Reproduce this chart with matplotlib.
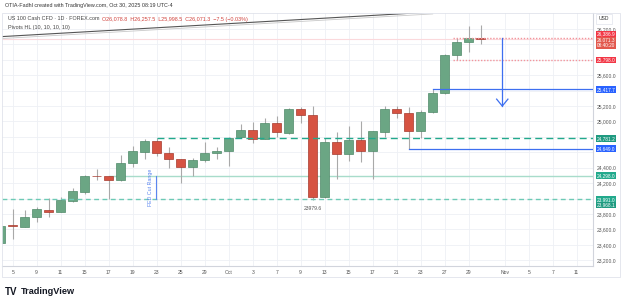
import matplotlib
matplotlib.use('Agg')
import matplotlib.pyplot as plt
import matplotlib.transforms as mtransforms
import numpy as np
import pandas as pd
from matplotlib.patches import Rectangle

plt.rcParams['font.family'] = ['Liberation Sans', 'DejaVu Sans']

# ---------------- data ----------------
calendar = pd.bdate_range('2025-09-04', '2025-11-14')   # trading-day axis
candle_dates = list(calendar[:41])
opens = [23420, 23660, 23636, 23758, 23852, 23830, 23973, 24086, 24296, 24290,
         24241, 24458, 24608, 24751, 24588, 24510, 24406, 24501, 24588, 24617,
         24795, 24890, 24777, 24977, 24855, 25158, 25084, 24017, 24730, 24579,
         24760, 24617, 24868, 25158, 25106, 24877, 25127, 25366, 25863, 26027,
         26078.8]
highs = [23680, 23861, 23852, 23887, 24004, 24021, 24138, 24306, 24384, 24298,
         24566, 24682, 24776, 24781.2, 24665, 24515, 24527, 24738, 24673, 24803,
         24968, 24990, 25042, 25071, 25175, 25192, 25205, 24782, 24860, 24942,
         25007, 24880, 25201, 25201, 25184, 25149, 25417.7, 25870, 26079, 26239,
         26257.5]
lows = [23390, 23472, 23628, 23701, 23765, 23822, 23952, 24056, 24241, 23991,
        24230, 24414, 24510, 24553, 24393, 24199, 24297, 24479, 24510, 24423,
        24782, 24717, 24769, 24803, 24834, 24977, 23979.6, 24004, 24250, 24492,
        24479, 24250, 24803, 25042, 24649, 24782, 25114, 25360, 25798, 25905,
        25998.5]
closes = [23645, 23640, 23758, 23861, 23826, 23978, 24095, 24293, 24290, 24240,
          24458, 24617, 24751, 24595, 24510, 24406, 24501, 24588, 24617, 24790,
          24890, 24777, 24977, 24860, 25158, 25084, 24017, 24730, 24579, 24760,
          24617, 24873, 25158, 25106, 24877, 25127, 25366, 25863, 26027, 26079,
          26071.3]

xtick_dates = ['2025-09-05', '2025-09-09', '2025-09-11', '2025-09-15', '2025-09-17',
               '2025-09-19', '2025-09-23', '2025-09-25', '2025-09-29', '2025-10-01',
               '2025-10-03', '2025-10-07', '2025-10-09', '2025-10-13', '2025-10-15',
               '2025-10-17', '2025-10-21', '2025-10-23', '2025-10-27', '2025-10-29',
               '2025-11-03', '2025-11-05', '2025-11-07', '2025-11-11']
xtick_labels = ['5', '9', '11', '15', '17', '19', '23', '25', '29', 'Oct', '3', '7', '9',
                '13', '15', '17', '21', '23', '27', '29', 'Nov', '5', '7', '11']
price_ticks = list(range(23200, 26201, 200))

# horizontal levels: (price, start date)
res_level = (24781.2, '2025-09-23')
fed_high = (24298.0, '2025-09-17')
fed_low = 23991.0
pivot_blue_low = (24649.0, '2025-10-22')
pivot_blue_high = (25417.7, '2025-10-24')
box_top, box_bottom, box_start = 26079.0, 25798.0, '2025-10-28'
last_close = 26071.3
arrow_date = '2025-11-03'
arrow_from, arrow_to = 26079.0, 25200.0
trend_dates = ['2025-09-04', '2025-10-24']
trend_prices = [26100, 26420]
low_label = 23979.6

# ---------------- helpers ----------------
pos = {d: i for i, d in enumerate(calendar)}
def xi(d):
    return pos[pd.Timestamp(d)]

fig = plt.figure(figsize=(6.25, 3.04), dpi=100)
fig.patch.set_facecolor('white')
W, H = 625, 304
ax = fig.add_axes([2 / W, (H - 266) / H, (593 - 2) / W, (266 - 13) / H])
ax.set_xlim(0.11, 49.36)
ax.set_ylim(23126, 26407)

for s in ['top', 'left']:
    ax.spines[s].set_visible(False)
for s in ['right', 'bottom']:
    ax.spines[s].set_color('#d1d4dc')
    ax.spines[s].set_linewidth(0.8)

# colored axis-label prices (tick labels hidden behind them)
label_prices = [last_close, box_bottom, pivot_blue_high[0], res_level[0],
                pivot_blue_low[0], fed_high[0], fed_low]

xt = [xi(d) for d in xtick_dates]
ax.set_xticks(xt)
ax.set_xticklabels(xtick_labels)
ax.set_yticks(price_ticks)
ax.yaxis.tick_right()
ylabels = []
for p in price_ticks:
    if min(abs(p - q) for q in label_prices) < 80:
        ylabels.append('')
    else:
        ylabels.append(f'{p:,.1f}')
ax.set_yticklabels(ylabels)
ax.tick_params(axis='both', length=0, labelsize=3.6, colors='#555555')
ax.tick_params(axis='x', pad=2.6)
ax.tick_params(axis='y', pad=2.8)
ax.grid(True, color='#eef0f5', lw=0.6)
ax.set_axisbelow(True)

# candles
GREEN, GREEN_E = '#6ba684', '#4f8a69'
RED, RED_E = '#d65342', '#a63a2e'
bw = 0.74
for d, o, h, l, c in zip(candle_dates, opens, highs, lows, closes):
    x = xi(d)
    up = c >= o
    ax.vlines(x, l, h, color='#a9a9a9', lw=0.8, zorder=2)
    lo, hi = min(o, c), max(o, c)
    hgt = max(hi - lo, 6)
    ax.add_patch(Rectangle((x - bw / 2, lo), bw, hgt,
                           facecolor=GREEN if up else RED,
                           edgecolor=GREEN_E if up else RED_E, lw=0.5, zorder=3))

xr = ax.get_xlim()[1]
# levels
ax.plot([xi(res_level[1]), xr], [res_level[0]] * 2, color='#22a98c', lw=1.0,
        ls=(0, (5, 3)), zorder=4)
ax.plot([xi(fed_high[1]), xr], [fed_high[0]] * 2, color='#a8dccb', lw=1.0, zorder=1.5)
ax.plot([ax.get_xlim()[0], xr], [fed_low] * 2, color='#6dcab5', lw=1.0,
        ls=(0, (3.5, 2.5)), zorder=4)
ax.plot([xi(pivot_blue_low[1]), xr], [pivot_blue_low[0]] * 2, color='#3d6ff0', lw=0.9, zorder=4)
ax.plot([xi(pivot_blue_high[1]), xr], [pivot_blue_high[0]] * 2, color='#3d6ff0', lw=0.9, zorder=4)
ax.plot([ax.get_xlim()[0], xr], [last_close] * 2, color='#fbd9dc', lw=0.8, zorder=1.5)
for p in (box_top, box_bottom):
    ax.plot([xi(box_start) - 0.3, xr], [p, p], color='#f3959c', lw=1.0,
            ls=(0, (1, 1.2)), zorder=4)

# arrow
ax_x = xi(arrow_date) - 0.2
ax.plot([ax_x, ax_x], [arrow_from, arrow_to], color='#3d6ff0', lw=0.9, zorder=5)
ax.plot([ax_x - 0.47, ax_x, ax_x + 0.47], [arrow_to + 90, arrow_to, arrow_to + 90],
        color='#3d6ff0', lw=0.9, zorder=5)

# FED cut range bracket
fx = xi(res_level[1]) - 0.05
ax.plot([fx, fx], [fed_low, fed_high[0]], color='#5b86f0', lw=0.8, zorder=5)
ax.text(fx - 0.45, (fed_low + fed_high[0]) / 2, 'FED Cut Range', rotation=90,
        ha='center', va='center', fontsize=3.8, color='#5b86f0', zorder=6)

# trend line
ax.plot([xi(d) for d in trend_dates], trend_prices, color='#555555', lw=0.8,
        zorder=5, clip_on=True)
ax.plot([xi(d) for d in trend_dates], [p - 25 for p in trend_prices], color='#c9c9c9',
        lw=0.6, zorder=4.9, clip_on=True)

# low label
ax.text(xi('2025-10-10'), low_label - 70, f'{low_label:.1f}', ha='center', va='top',
        fontsize=3.6, color='#555555')

# price axis labels
bt = mtransforms.blended_transform_factory(ax.transAxes, ax.transData)
def plabel(price, text, fc, dy_px=0.0, tc='white'):
    tr = mtransforms.offset_copy(bt, fig=fig, x=3.4, y=dy_px, units='dots')
    ax.text(1.0, price, text, transform=tr, ha='left', va='center', fontsize=3.4,
            color=tc, zorder=10, clip_on=False,
            bbox=dict(boxstyle='square,pad=0.18', fc=fc, ec='none'))

plabel(last_close, '26,386.9', '#f23645', dy_px=4.7)
plabel(last_close, f'{last_close:,.1f}', '#e2574c', dy_px=-1.0)
plabel(last_close, '08:40:20', '#e2574c', dy_px=-6.7)
plabel(box_bottom, f'{box_bottom:,.1f}', '#f23645')
plabel(pivot_blue_high[0], f'{pivot_blue_high[0]:,.1f}', '#2962ff')
plabel(res_level[0], f'{res_level[0]:,.1f}', '#1f9a80')
plabel(pivot_blue_low[0], f'{pivot_blue_low[0]:,.1f}', '#2962ff')
plabel(fed_high[0], f'{fed_high[0]:,.1f}', '#22a98c')
plabel(fed_low, f'{fed_low:,.1f}', '#22a98c')
plabel(fed_low, '23,968.1', '#1f9a80', dy_px=-5.6)

# USD box
fig.text(604 / W, 1 - 19 / H, 'USD', fontsize=3.6, color='#333333', ha='center',
         va='center', bbox=dict(boxstyle='square,pad=0.5', fc='white', ec='#e0e3eb', lw=0.5))

# outer frame
fig.add_artist(Rectangle((2 / W, 1 - 277 / H), 618 / W, 264 / H, transform=fig.transFigure,
                         fill=False, ec='#e0e3eb', lw=0.6))

# header texts
fig.text(5 / W, 1 - 5 / H, 'OTIA-Fadhl created with TradingView.com, Oct 30, 2025 08:19 UTC-4',
         fontsize=3.9, color='#333333', ha='left', va='center')
t0 = fig.text(8 / W, 1 - 19 / H, 'US 100 Cash CFD · 1D · FOREX.com  ', fontsize=3.9,
              color='#444444', ha='left', va='center')
fig.canvas.draw()
rend = fig.canvas.get_renderer()
bb = t0.get_window_extent(rend)
fig.text(bb.x1 / W, 1 - 19 / H,
         f'O{opens[-1]:,.1f}  H{highs[-1]:,.1f}  L{lows[-1]:,.1f}  C{closes[-1]:,.1f}  '
         f'−7.5 (−0.03%)', fontsize=3.9, color='#d0403a', ha='left', va='center')
fig.text(8 / W, 1 - 27 / H, 'Pivots HL (10, 10, 10, 10)', fontsize=3.9,
         color='#444444', ha='left', va='center')

# footer logo
fig.text(5 / W, 1 - 292 / H, 'TV', fontsize=7, fontweight='heavy', color='#131722',
         ha='left', va='center')
fig.text(21 / W, 1 - 292 / H, 'TradingView', fontsize=6.6, fontweight='bold',
         color='#131722', ha='left', va='center')

fig.savefig('out.png', dpi=100, facecolor='white')
